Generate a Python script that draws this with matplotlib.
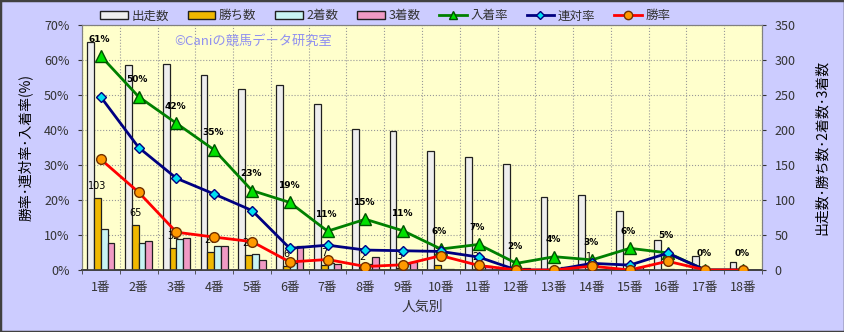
import matplotlib
matplotlib.use('Agg')
import matplotlib.pyplot as plt
import numpy as np
from matplotlib.patches import Rectangle, Patch
from matplotlib.lines import Line2D

plt.rcParams['font.family'] = ['Noto Sans CJK JP', 'DejaVu Sans']

categories = ["1番", "2番", "3番", "4番", "5番", "6番", "7番", "8番", "9番",
              "10番", "11番", "12番", "13番", "14番", "15番", "16番", "17番", "18番"]
starts = [326, 293, 295, 278, 259, 264, 237, 201, 198, 170, 162, 151, 105, 107, 84, 43, 20, 12]
wins = [103, 65, 32, 26, 21, 6, 7, 2, 3, 7, 2, 0, 0, 1, 0, 1, 0, 0]
seconds = [58, 38, 45, 34, 23, 10, 10, 9, 8, 2, 4, 0, 0, 1, 1, 1, 0, 0]
thirds = [39, 42, 46, 34, 14, 35, 9, 18, 11, 1, 6, 3, 4, 1, 4, 0, 0, 0]
place_rate = [61.1, 49.5, 41.9, 34.3, 22.7, 19.3, 11.1, 14.5, 11.2, 6.0, 7.3, 1.9, 3.8, 2.9, 6.2, 4.9, 0, 0]
rentai_rate = [49.4, 35.0, 26.2, 21.7, 17.0, 6.2, 7.1, 5.7, 5.5, 5.3, 3.7, 0, 0, 1.9, 1.4, 4.8, 0, 0]
win_rate = [31.6, 22.2, 10.8, 9.4, 8.1, 2.3, 3.0, 1.0, 1.5, 4.1, 1.3, 0, 0, 1.1, 0, 2.5, 0, 0]
place_labels = ["61%", "50%", "42%", "35%", "23%", "19%", "11%", "15%", "11%",
                "6%", "7%", "2%", "4%", "3%", "6%", "5%", "0%", "0%"]

W, H = 845, 332
fig = plt.figure(figsize=(W / 100, H / 100), dpi=100)
fig.patch.set_facecolor('#CCCCFF')
fig.patches.append(Rectangle((0, 0), 1, 1, transform=fig.transFigure, fill=False,
                             edgecolor='#404040', lw=2.5, zorder=10))

ax = fig.add_axes([82 / W, 62 / H, 680 / W, 245 / H])
ax.set_facecolor('#FFFFCC')
axl = ax.twinx()

x = np.arange(len(categories))
bw = 0.18
bar_specs = [
    (starts, '#EEEEEE', '出走数'),
    (wins, '#F0B800', '勝ち数'),
    (seconds, '#C8F4F4', '2着数'),
    (thirds, '#F09AC4', '3着数'),
]
for k, (vals, col, lab) in enumerate(bar_specs):
    ax.bar(x + (k - 1.5) * bw, vals, width=bw, color=col, edgecolor='#202020',
           linewidth=0.9, zorder=3)

for i, v in enumerate(wins):
    if v > 0:
        ax.annotate(str(v), (x[i] - 0.5 * bw, v), xytext=(0, 5), textcoords='offset points',
                    ha='center', va='bottom', fontsize=7, color='#000000', zorder=4,
                    family=['DejaVu Sans'])

ax.set_xlim(-0.5, len(categories) - 0.5)
ax.set_ylim(0, 350)
ax.set_yticks(np.arange(0, 351, 50))
ax.yaxis.tick_right()
ax.yaxis.set_label_position('right')
ax.set_xticks(x)
ax.set_xticklabels(categories)
ax.set_xticks(np.arange(-0.5, len(categories), 1), minor=True)
ax.tick_params(axis='x', which='major', length=0, labelsize=9, colors='#333333', pad=8)
ax.tick_params(axis='x', which='minor', length=3, color='#404040')
ax.tick_params(axis='y', labelsize=9, colors='#333333', length=3, pad=6)
ax.grid(True, axis='y', which='major', linestyle=':', color='#999999', lw=0.8, zorder=0)
ax.grid(True, axis='x', which='minor', linestyle=':', color='#999999', lw=0.8, zorder=0)
ax.set_axisbelow(True)
ax.set_ylabel('出走数･勝ち数･2着数･3着数', fontsize=10, color='#000000', rotation=90, labelpad=14)
ax.set_xlabel('人気別', fontsize=10, color='#333333', labelpad=4)

axl.plot(x, place_rate, color='#008000', lw=2, marker='^', markersize=8,
         markerfacecolor='#00E000', markeredgecolor='#005000', zorder=5)
axl.plot(x, rentai_rate, color='#000080', lw=2, marker='D', markersize=5,
         markerfacecolor='#00E0F0', markeredgecolor='#000080', zorder=6)
axl.plot(x, win_rate, color='#FF0000', lw=2, marker='o', markersize=7,
         markerfacecolor='#FF9900', markeredgecolor='#703000', zorder=7)
for i, (v, t) in enumerate(zip(place_rate, place_labels)):
    axl.annotate(t, (x[i], v), xytext=(-1, 9), textcoords='offset points',
                 ha='center', va='bottom', fontsize=6.5, fontweight='bold',
                 color='#000000', zorder=8, family=['DejaVu Sans'])

axl.set_ylim(0, 70)
axl.set_yticks(np.arange(0, 71, 10))
axl.set_yticklabels([f"{v}%" for v in range(0, 71, 10)])
axl.yaxis.tick_left()
axl.yaxis.set_label_position('left')
axl.tick_params(axis='y', labelsize=9, colors='#333333', length=3, pad=6)
axl.set_ylabel('勝率･連対率･入着率(%)', fontsize=10, color='#000000', labelpad=8)

for a in (ax, axl):
    for s in a.spines.values():
        s.set_color('#808080')
    a.spines['bottom'].set_color('#404040')
    a.spines['bottom'].set_linewidth(1.2)

ax.text(0.135, 0.935, '©Caniの競馬データ研究室', transform=ax.transAxes, fontsize=9.5,
        color='#9090F0', ha='left', va='center', zorder=2)

handles = [Patch(facecolor=c, edgecolor='#202020', label=l) for _, c, l in bar_specs]
handles += [
    Line2D([], [], color='#008000', lw=2, marker='^', markersize=6,
           markerfacecolor='#00E000', markeredgecolor='#005000', label='入着率'),
    Line2D([], [], color='#000080', lw=2, marker='D', markersize=4,
           markerfacecolor='#00E0F0', markeredgecolor='#000080', label='連対率'),
    Line2D([], [], color='#FF0000', lw=2, marker='o', markersize=6,
           markerfacecolor='#FF9900', markeredgecolor='#703000', label='勝率'),
]
fig.legend(handles=handles, loc='center', bbox_to_anchor=(0.456, 0.952), ncol=7,
           frameon=False, fontsize=9, handlelength=2.2, handleheight=0.5,
           columnspacing=1.5, handletextpad=0.3, labelcolor='#333333')

fig.savefig('out.png', dpi=100, facecolor=fig.get_facecolor())
